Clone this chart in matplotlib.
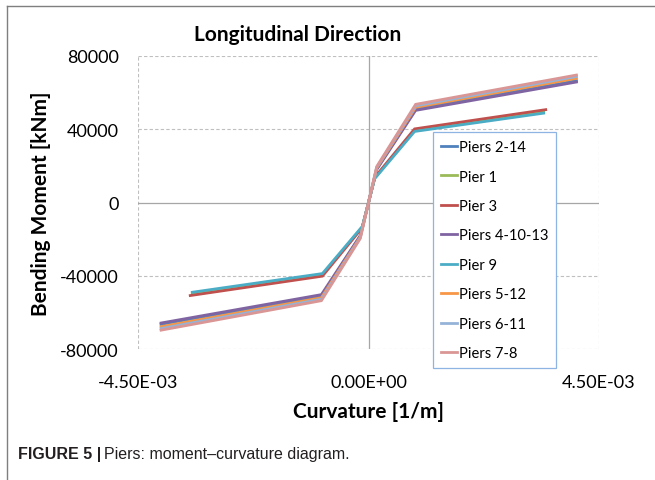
import matplotlib
matplotlib.use("Agg")
import matplotlib.pyplot as plt
from matplotlib.lines import Line2D

# curvature [1/m] for the two families of piers
curv_short = [-3.44e-3, -0.90e-3, -0.12e-3, 0.0, 0.12e-3, 0.90e-3, 3.42e-3]
curv_pier3 = [-3.48e-3, -0.90e-3, -0.12e-3, 0.0, 0.12e-3, 0.90e-3, 3.46e-3]
curv_tall = [-4.05e-3, -0.92e-3, -0.16e-3, 0.0, 0.16e-3, 0.92e-3, 4.06e-3]

# bending moment [kNm]
m_piers_2_14 = [-66500, -51000, -18300, 0, 18300, 51000, 66500]
m_pier_1 = [-49800, -39400, -13300, 0, 13300, 39400, 49700]
m_pier_3 = [-50800, -40200, -13700, 0, 13700, 40200, 50700]
m_piers_4_10_13 = [-65800, -50300, -18000, 0, 18000, 50300, 65800]
m_pier_9 = [-49000, -38800, -13000, 0, 13000, 38800, 48800]
m_piers_5_12 = [-67800, -52000, -18800, 0, 18800, 52000, 67800]
m_piers_6_11 = [-68800, -52800, -19200, 0, 19200, 52800, 68800]
m_piers_7_8 = [-69700, -53600, -19600, 0, 19600, 53600, 69600]

labels = ["Piers 2-14", "Pier 1", "Pier 3", "Piers 4-10-13", "Pier 9",
          "Piers 5-12", "Piers 6-11", "Piers 7-8"]
colors = ["#4F81BD", "#9BBB59", "#C0504D", "#8064A2", "#4BACC6",
          "#F79646", "#95B3D7", "#D99694"]

series = [
    (curv_tall, m_piers_2_14),
    (curv_short, m_pier_1),
    (curv_pier3, m_pier_3),
    (curv_tall, m_piers_4_10_13),
    (curv_short, m_pier_9),
    (curv_tall, m_piers_5_12),
    (curv_tall, m_piers_6_11),
    (curv_tall, m_piers_7_8),
]

CHART_FONT = ["Lato", "DejaVu Sans"]

fig = plt.figure(figsize=(6.55, 4.81), dpi=100)
ax = fig.add_axes([0.2107, 0.2723, 0.7038, 0.6092])

for (xs, ys), lab, col in zip(series, labels, colors):
    ax.plot(xs, ys, color=col, linewidth=2.0, label=lab, solid_joinstyle="miter")

ax.set_xlim(-4.5e-3, 4.5e-3)
ax.set_ylim(-80000, 80000)

# dashed plot-area border and gridlines
for yv in [-80000, -40000, 40000, 80000]:
    ax.axhline(yv, color="#BFBFBF", linestyle=(0, (3, 2)), linewidth=0.8, zorder=0)
for xv in [-4.5e-3, 4.5e-3]:
    ax.axvline(xv, color="#BFBFBF", linestyle=(0, (3, 2)), linewidth=0.8, zorder=0)
# axes crossing at zero
ax.axhline(0, color="#A6A6A6", linewidth=0.9, zorder=0)
ax.axvline(0, color="#A6A6A6", linewidth=0.9, zorder=0)

for sp in ax.spines.values():
    sp.set_visible(False)

ax.set_xticks([-4.5e-3, 0.0, 4.5e-3])
ax.set_xticklabels(["-4.50E-03", "0.00E+00", "4.50E-03"])
ax.set_yticks([-80000, -40000, 0, 40000, 80000])
ax.set_yticklabels(["-80000", "-40000", "0", "40000", "80000"])
ax.tick_params(length=0, labelsize=13)
ax.tick_params(axis="x", pad=18)
ax.tick_params(axis="y", pad=14)
for t in ax.get_xticklabels() + ax.get_yticklabels():
    t.set_family(CHART_FONT)

ax.set_xlabel("Curvature [1/m]", fontsize=15, fontweight="bold",
              family=CHART_FONT, labelpad=8)
ax.set_ylabel("Bending Moment [kNm]", fontsize=15, fontweight="bold",
              family=CHART_FONT, labelpad=6)

fig.text(0.455, 0.927, "Longitudinal Direction", ha="center", va="center",
         fontsize=15, fontweight="bold", family=CHART_FONT)

handles = [Line2D([0], [0], color=c, linewidth=2.0) for c in colors]
leg = ax.legend(handles, labels, loc="upper left",
                bbox_to_anchor=(433 / 655, 1 - 133 / 481),
                bbox_transform=fig.transFigure,
                prop={"family": CHART_FONT, "size": 10.6},
                frameon=True, fancybox=False, framealpha=1,
                handlelength=1.1, handletextpad=0.1,
                labelspacing=1.05, borderpad=0.55, borderaxespad=0)
leg.get_frame().set_edgecolor("#8EB4E3")
leg.get_frame().set_linewidth(0.9)
leg.set_zorder(5)

# outer frame of the figure panel
fig.add_artist(Line2D([7 / 655, 1], [1 - 7 / 481, 1 - 7 / 481],
                      transform=fig.transFigure, color="#7F7F7F", linewidth=1.0))
fig.add_artist(Line2D([7 / 655, 7 / 655], [0, 1 - 7 / 481],
                      transform=fig.transFigure, color="#7F7F7F", linewidth=1.0))

cap_font = ["Liberation Sans Narrow", "Liberation Sans", "DejaVu Sans"]
cap = fig.text(18 / 655, 1 - 455 / 481, "FIGURE 5 |", ha="left", va="center",
               fontsize=11.5, fontweight="bold", family=cap_font, color="#231F20")
fig.canvas.draw()
bb = cap.get_window_extent()
fig.text(bb.x1 / fig.bbox.width + 0.004, 1 - 455 / 481,
         "Piers: moment\u2013curvature diagram.", ha="left", va="center",
         fontsize=11.5, family=cap_font, color="#231F20")

fig.savefig("out.png", dpi=100)
